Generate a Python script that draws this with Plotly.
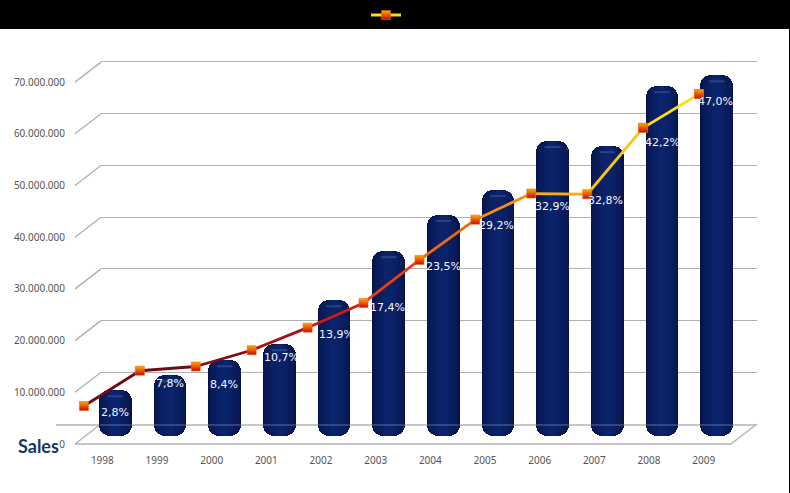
import plotly.graph_objects as go

# ---------- data ----------
years = ["1998","1999","2000","2001","2002","2003","2004","2005","2006","2007","2008","2009"]
sales = [8500000,11400000,14300000,17400000,25900000,35400000,42400000,47200000,56700000,55700000,67300000,69400000]
share = [2.8,7.8,8.4,10.7,13.9,17.4,23.5,29.2,32.9,32.8,42.2,47.0]
share_labels = ["2,8%","7,8%","8,4%","10,7%","13,9%","17,4%","23,5%","29,2%","32,9%","32,8%","42,2%","47,0%"]
y_ticks = [0,10000000,20000000,30000000,40000000,50000000,60000000,70000000]
y_ticktext = ["0","10.000.000","20.000.000","30.000.000","40.000.000","50.000.000","60.000.000","70.000.000"]

# ---------- styling ----------
W, H = 790, 493
label_dy = [6,13,18,7,7,5,7,6,13,6,15,8]
label_dx = [0,0,-1,2,2,-1,0,-2,0,-2,0,-1]
seg_colors = ["#6e0a12","#720a12","#820c12","#a80f12","#d01a10","#ea3c10","#f2660f","#f88e10","#fbab14","#fcc414","#ffdc14"]
layer_w = [0.60,0.55,0.46,0.32,0.16]
layer_c = ["#06134a","#071852","#081c5c","#092064","#0a236a"]
GRID = "#b0b0b0"
MARKER = dict(symbol="square", size=9, color="#ffa800",
              gradient=dict(type="vertical", color="#c80808"),
              line=dict(width=0.6, color="#e86a10"))

def hdom(a, b): return [a / W, b / W]
def vdom(top, bottom): return [1 - bottom / H, 1 - top / H]

fig = go.Figure()

fig.add_trace(go.Scatter(x=years, y=sales, xaxis="x2", yaxis="y2", mode="none", showlegend=False, hoverinfo="skip"))
fig.add_trace(go.Scatter(x=years, y=sales, xaxis="x", yaxis="y", mode="none", showlegend=False, hoverinfo="skip"))

# cylinders, nested bars emulate the horizontal shading
DROP = 400000
for w, c in zip(layer_w, layer_c):
    fig.add_trace(go.Bar(x=years, y=[s + DROP for s in sales], base=[-DROP] * 12,
                         width=w, xaxis="x3", yaxis="y3", showlegend=False,
                         marker=dict(color=c, line_width=0, cornerradius=11), hoverinfo="skip"))
# highlight on the cap
fig.add_trace(go.Scatter(x=years, y=[s - 1200000 for s in sales], xaxis="x3", yaxis="y3", mode="markers",
                         showlegend=False, hoverinfo="skip",
                         marker=dict(symbol="line-ew", size=11, line=dict(width=2, color="#28447f"))))

# share line, one colour per segment
for i, c in enumerate(seg_colors):
    last = i == len(seg_colors) - 1
    fig.add_trace(go.Scatter(x=years[i:i+2], y=share[i:i+2], xaxis="x4", yaxis="y4",
                             mode="lines+markers" if last else "lines", name=" ", showlegend=last,
                             line=dict(color=c, width=2.8), marker=MARKER, hoverinfo="skip"))
fig.add_trace(go.Scatter(x=years, y=share, xaxis="x4", yaxis="y4", mode="markers",
                         showlegend=False, hoverinfo="skip", marker=MARKER))

annotations = [dict(x=i, y=p, xref="x3", yref="y4", text=t, showarrow=False, xshift=dx, yshift=-dy,
                    font=dict(family="DejaVu Sans", size=11, color="#f6f8ff"))
               for i, (p, t, dx, dy) in enumerate(zip(share, share_labels, label_dx, label_dy))]
annotations.append(dict(x=38 / W, y=1 - 446 / H, xref="paper", yref="paper", xanchor="center", yanchor="middle",
                        text="<b>Sales</b>", showarrow=False,
                        font=dict(family="Lato", size=18, color="#17375f")))

shapes = [dict(type="rect", xref="paper", yref="paper", x0=0, x1=1, y0=1 - 29 / H, y1=1,
               fillcolor="black", line_width=0, layer="below"),
          dict(type="rect", xref="paper", yref="paper", x0=789 / W, x1=1, y0=0, y1=1,
               fillcolor="black", line_width=0, layer="above"),
          dict(type="line", xref="paper", yref="paper", x0=100 / W, x1=757 / W, y0=1 - 425 / H, y1=1 - 425 / H,
               line=dict(color="rgba(200,205,220,0.3)", width=1.3), layer="above")]
segs = [(75, 444 - 51.7 * k, 101, 424 - 51.7 * k) for k in range(8)]
segs += [(75, 444, 731, 444), (731, 444, 757, 424), (56, 425, 757, 425)]
for x0, y0, x1, y1 in segs:
    shapes.append(dict(type="line", xref="paper", yref="paper", x0=x0 / W, x1=x1 / W,
                       y0=1 - y0 / H, y1=1 - y1 / H, line=dict(color=GRID, width=1.4), layer="below"))

def cat_axis(a, b, anchor, **kw):
    return dict(domain=hdom(a, b), type="category", categoryorder="array", categoryarray=years,
                range=[-0.5, 11.5], anchor=anchor, showgrid=False, zeroline=False, **kw)

fig.update_layout(
    width=W, height=H, margin=dict(l=0, r=0, t=0, b=0, pad=0),
    paper_bgcolor="white", plot_bgcolor="rgba(0,0,0,0)",
    barmode="overlay", bargap=0, shapes=shapes, annotations=annotations, hovermode=False,
    legend=dict(x=390 / W, y=1 - 15 / H, xanchor="center", yanchor="middle", bgcolor="rgba(0,0,0,0)",
                font=dict(size=8, color="black"), itemwidth=30),
    xaxis=cat_axis(75, 731, "y", showticklabels=True, ticks="outside", ticklen=7, tickcolor="rgba(0,0,0,0)",
                   tickfont=dict(family="Noto Sans", size=10, color="#555555"), automargin=False),
    yaxis=dict(domain=vdom(82, 444), range=[0, 70000000], anchor="x", tickmode="array", tickvals=y_ticks,
               ticktext=y_ticktext, showgrid=False, zeroline=False, ticks="outside", ticklen=7, automargin=False,
               tickcolor="rgba(0,0,0,0)", tickfont=dict(family="Noto Sans", size=10, color="#555555")),
    xaxis2=cat_axis(101, 757, "y2", showticklabels=False),
    yaxis2=dict(domain=vdom(59.4, 426.6), range=[-500000, 70500000], anchor="x2", tickmode="array", tickvals=y_ticks[1:],
                showgrid=True, gridcolor=GRID, gridwidth=1.4, zeroline=False, showticklabels=False),
    xaxis3=cat_axis(88, 744, "y3", showticklabels=False),
    yaxis3=dict(domain=vdom(72, 436.1), range=[-400000, 70000000], anchor="x3", showgrid=False, zeroline=False,
                showticklabels=False),
    xaxis4=cat_axis(56, 727, "y4", showticklabels=False),
    yaxis4=dict(domain=vdom(72.8, 425.8), range=[0, 50], anchor="x4", showgrid=False, zeroline=False,
                showticklabels=False),
)

fig.write_html("out.html", config={"displayModeBar": False},
               post_script="var d=document.getElementById('{plot_id}');d.style.position='fixed';d.style.left='0';d.style.top='0';")
